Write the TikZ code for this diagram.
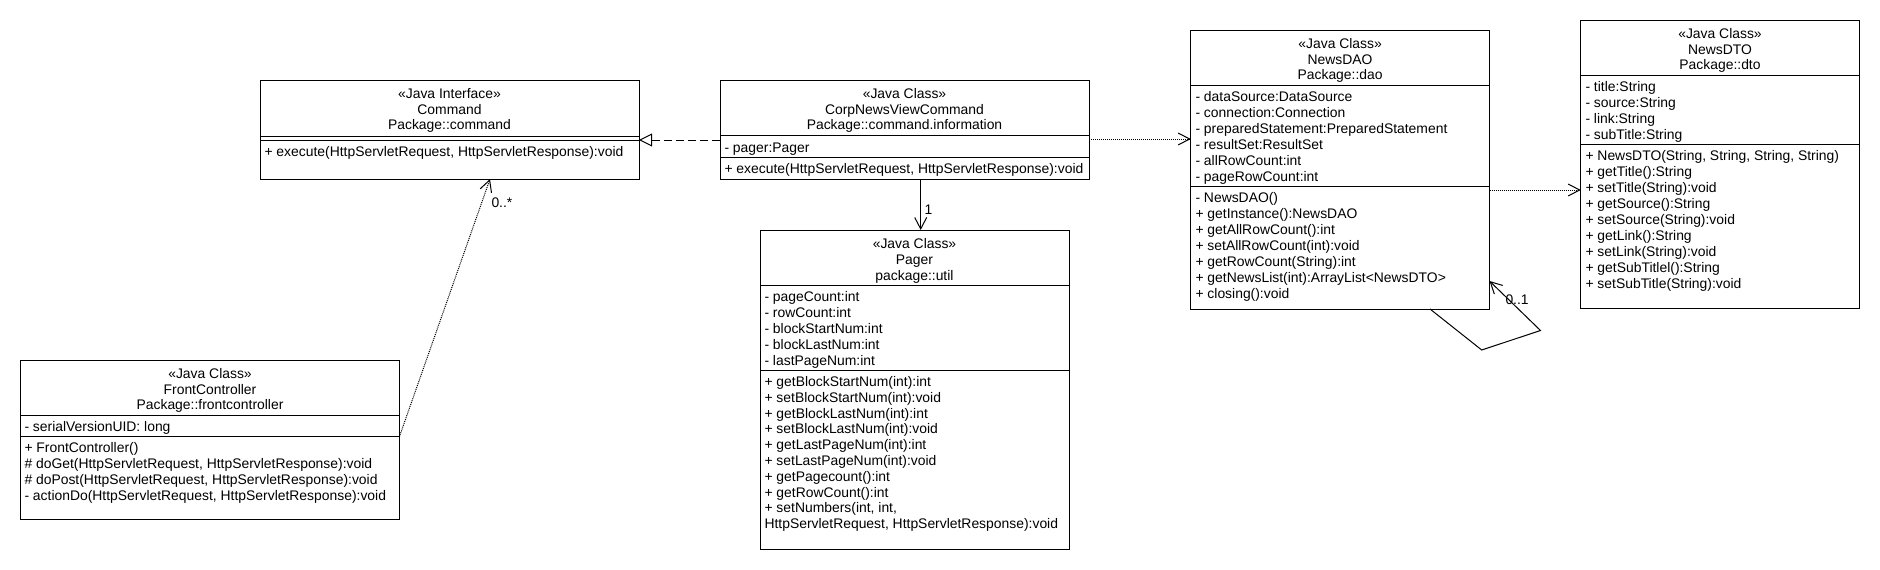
\documentclass[tikz,border=0pt]{standalone}
\usepackage{fontspec}
\setmainfont{Liberation Sans}
\usetikzlibrary{arrows.meta}
\newcommand\fsz{\fontsize{13.9}{16}\selectfont}
\newcommand\umlbox[5]{\node[box,minimum width={#4-#2},minimum height={#5-#3}] (#1) at (#2,#3) {};}
\newcommand\umlsep[2]{\draw (#1.west |- 0,#2) -- (#1.east |- 0,#2);}
\newcommand\umlhead[6]{%
  \node[ct] (#1-h1) at (#2,#3) {#4};
  \node[ct] (#1-h2) at (#2,{#3+16}) {#5};
  \node[ct] (#1-h3) at (#2,{#3+31.7}) {#6};}
\newcommand\umlrows[5]{\foreach \t [count=\i] in {#5}{\node[lt] (#1\i) at ({#2},{#3+#4*(\i-1)}) {\t};}}
\begin{document}
\begin{tikzpicture}[x=1pt,y=-1pt,line width=1pt,
  box/.style={draw,rectangle,inner sep=0pt,outer sep=0pt,anchor=north west},
  lt/.style={inner sep=0pt,anchor=base west,font=\fsz},
  ct/.style={inner sep=0pt,anchor=base,font=\fsz},
  dep/.style={dash pattern=on 1pt off 1pt,-{Straight Barb[length=11.5pt,width=12pt]}},
  assoc/.style={-{Straight Barb[length=11.5pt,width=12pt]}},
  realize/.style={dash pattern=on 8pt off 4pt,-{Triangle[open,length=13pt,width=13pt]}}]
\useasboundingbox (0,0) rectangle (1880,570);

% ---------- Command ----------
\umlbox{cmd}{260}{80}{639}{179}
\umlsep{cmd}{136}
\umlsep{cmd}{140}
\umlhead{cmd}{449.5}{98.1}{«Java Interface»}{Command}{Package::command}
\umlrows{cmd-m}{264}{156.5}{16}{{+ execute(HttpServletRequest, HttpServletResponse):void}}

% ---------- CorpNewsViewCommand ----------
\umlbox{corp}{720}{80}{1089}{179}
\umlsep{corp}{135}
\umlsep{corp}{157}
\umlhead{corp}{904.5}{98}{«Java Class»}{CorpNewsViewCommand}{Package::command.information}
\umlrows{corp-a}{724}{152.5}{16}{{- pager:Pager}}
\umlrows{corp-m}{724}{173.8}{16}{{+ execute(HttpServletRequest, HttpServletResponse):void}}

% ---------- Pager ----------
\umlbox{pager}{760}{230}{1069}{549}
\umlsep{pager}{285.7}
\umlsep{pager}{370.7}
\umlhead{pager}{914.5}{248.8}{«Java Class»}{Pager}{package::util}
\umlrows{pager-a}{764}{301.3}{16}{{- pageCount:int},{- rowCount:int},{- blockStartNum:int},{- blockLastNum:int},{- lastPageNum:int}}
\umlrows{pager-m}{764}{386.5}{15.8}{{+ getBlockStartNum(int):int},{+ setBlockStartNum(int):void},{+ getBlockLastNum(int):int},{+ setBlockLastNum(int):void},{+ getLastPageNum(int):int},{+ setLastPageNum(int):void},{+ getPagecount():int},{+ getRowCount():int},{+ setNumbers(int, int,},{HttpServletRequest, HttpServletResponse):void}}

% ---------- NewsDAO ----------
\umlbox{dao}{1190.7}{30.7}{1489.5}{309}
\umlsep{dao}{85.7}
\umlsep{dao}{186}
\umlhead{dao}{1340.1}{48.1}{«Java Class»}{NewsDAO}{Package::dao}
\umlrows{dao-a}{1195}{101.1}{16}{{- dataSource:DataSource},{- connection:Connection},{- preparedStatement:PreparedStatement},{- resultSet:ResultSet},{- allRowCount:int},{- pageRowCount:int}}
\umlrows{dao-m}{1195}{202.5}{15.95}{{- NewsDAO()},{+ getInstance():NewsDAO},{+ getAllRowCount():int},{+ setAllRowCount(int):void},{+ getRowCount(String):int},{+ getNewsList(int):ArrayList<NewsDTO>},{+ closing():void}}

% ---------- NewsDTO ----------
\umlbox{dto}{1580.7}{20.7}{1859.3}{308}
\umlsep{dto}{75.7}
\umlsep{dto}{144.3}
\umlhead{dto}{1720}{38.1}{«Java Class»}{NewsDTO}{Package::dto}
\umlrows{dto-a}{1585}{91.1}{16}{{- title:String},{- source:String},{- link:String},{- subTitle:String}}
\umlrows{dto-m}{1585}{160.1}{16}{{+ NewsDTO(String, String, String, String)},{+ getTitle():String},{+ setTitle(String):void},{+ getSource():String},{+ setSource(String):void},{+ getLink():String},{+ setLink(String):void},{+ getSubTitlel():String},{+ setSubTitle(String):void}}

% ---------- FrontController ----------
\umlbox{fc}{20.7}{360.7}{399.3}{519.3}
\umlsep{fc}{415.3}
\umlsep{fc}{436.7}
\umlhead{fc}{210}{378.1}{«Java Class»}{FrontController}{Package::frontcontroller}
\umlrows{fc-a}{24}{431.5}{16}{{- serialVersionUID: long}}
\umlrows{fc-m}{24}{452.1}{16}{{+ FrontController()},{\# doGet(HttpServletRequest, HttpServletResponse):void},{\# doPost(HttpServletRequest, HttpServletResponse):void},{- actionDo(HttpServletRequest, HttpServletResponse):void}}

% ---------- connectors ----------
\draw[realize] (corp.west |- 0,140) -- (cmd.east |- 0,140);
\draw[dep] (corp.east |- 0,139) -- (dao.west |- 0,139);
\draw[dep] (dao.east |- 0,190) -- (dto.west |- 0,190);
\draw[assoc] (920.7,0 |- corp.south) -- (920.7,0 |- pager.north);
\node[lt] (lab1) at (924,214.5) {1};
\draw[dep] (fc.east |- 0,437) -- (490,0 |- cmd.south);
\node[lt] (lab0m) at (491,207.8) {0..*};
\coordinate (loopA) at (1481.7,350);
\coordinate (loopB) at (1540.5,330.5);
\draw[assoc] (1430,0 |- dao.south) -- (loopA) -- (loopB) -- (dao.east |- 0,281);
\node[lt] (lab01) at (1505,304.8) {0..1};
\end{tikzpicture}
\end{document}
